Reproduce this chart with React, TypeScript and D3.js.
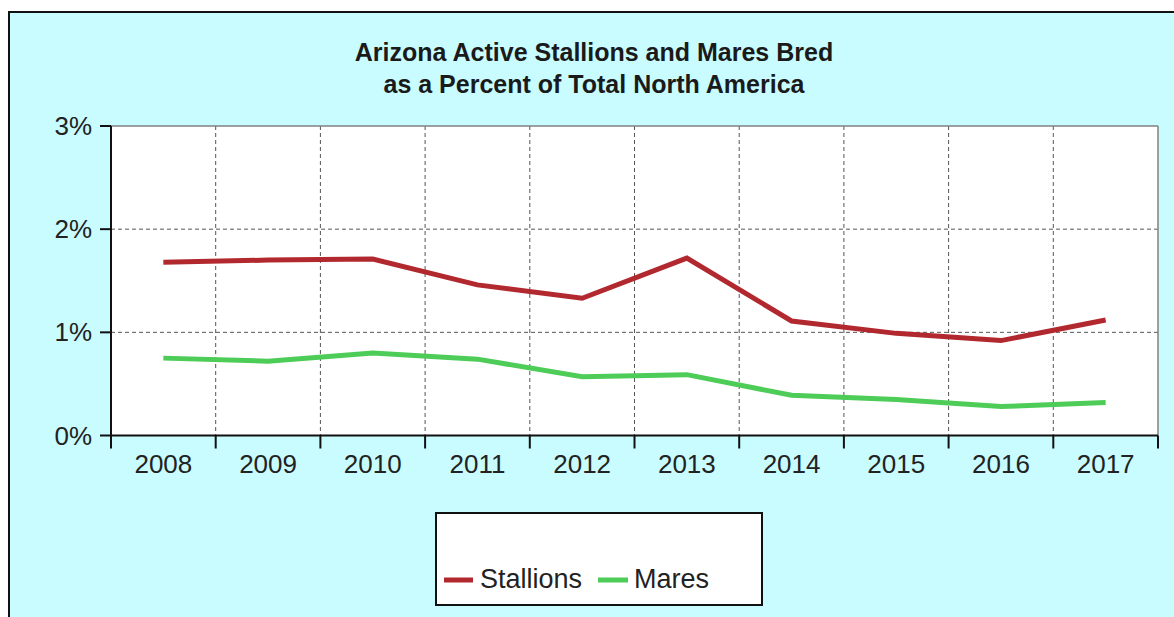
import React, { useEffect } from "react";
import * as d3 from "d3";

// categories and series (percent of North America total)
const years = ["2008", "2009", "2010", "2011", "2012", "2013", "2014", "2015", "2016", "2017"];
const stallions = [1.68, 1.70, 1.71, 1.46, 1.33, 1.72, 1.11, 0.99, 0.92, 1.12];
const mares = [0.75, 0.72, 0.80, 0.74, 0.57, 0.59, 0.39, 0.35, 0.28, 0.32];
const yTicks = [0, 1, 2, 3];
const titleLines = ["Arizona Active Stallions and Mares Bred", "as a Percent of Total North America"];

const W = 1174;
const H = 617;
const FONT = "'Liberation Sans', Arial, sans-serif";

const App = () => {
    // no body margin so the svg sits at the page corner
    useEffect(() => {
        document.body.style.margin = "0";
    }, []);

    const plot = { left: 111, right: 1158, top: 126, bottom: 435.5 };

    const x = d3.scaleBand<string>().domain(years).range([plot.left, plot.right]);
    const y = d3.scaleLinear().domain([0, 3]).range([plot.bottom, plot.top]);

    const line = d3.line<number>()
        .x((_, i) => (x(years[i]) as number) + x.bandwidth() / 2)
        .y(d => y(d));

    const series = [
        { name: "Stallions", values: stallions, color: "#b2282f" },
        { name: "Mares", values: mares, color: "#4dcc57" },
    ];

    // boundaries between categories (gridlines + tick marks)
    const bounds = years.map(yr => x(yr) as number).concat([plot.right]);

    return (
        <svg width={W} height={H} style={{ display: "block" }}>
            <rect x={0} y={0} width={W} height={H} fill="#ffffff" />
            <rect x={9} y={12} width={W + 10} height={H + 10} fill="#c9fcff" stroke="#111" strokeWidth={2} />

            {/* title */}
            {titleLines.map((t, i) => (
                <text key={t} x={594} y={61 + i * 32} textAnchor="middle" fontFamily={FONT}
                    fontWeight="bold" fontSize={25} fill="#1a1a1a">{t}</text>
            ))}

            {/* plot area */}
            <rect x={plot.left} y={plot.top} width={plot.right - plot.left} height={plot.bottom - plot.top} fill="#ffffff" />

            {/* horizontal gridlines */}
            {yTicks.filter(t => t > 0 && t < 3).map(t => (
                <line key={"h" + t} x1={plot.left} x2={plot.right} y1={y(t)} y2={y(t)}
                    stroke="#555" strokeWidth={1} strokeDasharray="4,3" />
            ))}
            {/* vertical gridlines */}
            {bounds.slice(1, -1).map((b, i) => (
                <line key={"v" + i} x1={b} x2={b} y1={plot.top} y2={plot.bottom}
                    stroke="#555" strokeWidth={1} strokeDasharray="4,3" />
            ))}

            {/* top / right frame */}
            <line x1={plot.left} x2={plot.right} y1={plot.top} y2={plot.top} stroke="#808080" strokeWidth={1.5} />
            <line x1={plot.right} x2={plot.right} y1={plot.top} y2={plot.bottom} stroke="#808080" strokeWidth={1.5} />

            {/* series lines */}
            {series.map(s => (
                <path key={s.name} d={line(s.values) || ""} fill="none" stroke={s.color}
                    strokeWidth={5} strokeLinejoin="miter" />
            ))}

            {/* y axis */}
            <line x1={plot.left} x2={plot.left} y1={plot.top} y2={plot.bottom} stroke="#111" strokeWidth={2} />
            {yTicks.map(t => (
                <g key={"yt" + t}>
                    <line x1={plot.left - 11} x2={plot.left} y1={y(t)} y2={y(t)} stroke="#111" strokeWidth={2} />
                    <text x={92} y={y(t)} dy="0.35em" textAnchor="end" fontFamily={FONT} fontSize={26} fill="#222">
                        {t + "%"}
                    </text>
                </g>
            ))}

            {/* x axis */}
            <line x1={plot.left} x2={plot.right} y1={plot.bottom} y2={plot.bottom} stroke="#111" strokeWidth={2} />
            {bounds.map((b, i) => (
                <line key={"xt" + i} x1={b} x2={b} y1={plot.bottom} y2={plot.bottom + 13} stroke="#111" strokeWidth={2} />
            ))}
            {years.map(yr => (
                <text key={yr} x={(x(yr) as number) + x.bandwidth() / 2} y={473} textAnchor="middle"
                    fontFamily={FONT} fontSize={26} fill="#222">{yr}</text>
            ))}

            {/* legend */}
            <rect x={436} y={513} width={326} height={92} fill="#ffffff" stroke="#111" strokeWidth={2} />
            <line x1={444} x2={473} y1={580} y2={580} stroke={series[0].color} strokeWidth={5} />
            <text x={480} y={588} fontFamily={FONT} fontSize={27} fill="#222">{series[0].name}</text>
            <line x1={598} x2={628} y1={580} y2={580} stroke={series[1].color} strokeWidth={5} />
            <text x={634} y={588} fontFamily={FONT} fontSize={27} fill="#222">{series[1].name}</text>
        </svg>
    );
};

export default App;
